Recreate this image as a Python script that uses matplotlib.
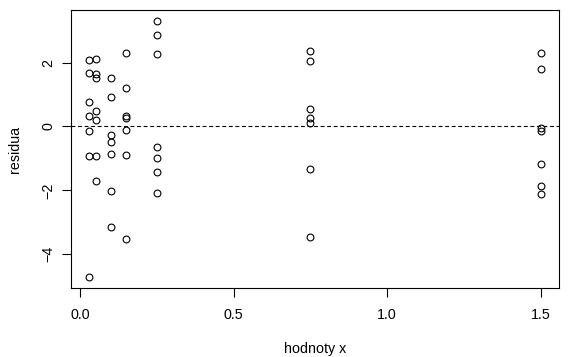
import matplotlib
matplotlib.use("Agg")
import matplotlib.pyplot as plt

plt.rcParams['font.family'] = ['Liberation Sans', 'DejaVu Sans']

# data: 7 residuals for each x level
x_levels = [0.03, 0.05, 0.1, 0.15, 0.25, 0.75, 1.5]
res_003 = [2.09, 1.66, 0.75, 0.34, -0.14, -0.91, -4.72]
res_005 = [2.10, 1.63, 1.51, 0.47, 0.20, -0.91, -1.72]
res_010 = [1.51, 0.93, -0.28, -0.49, -0.85, -2.02, -3.14]
res_015 = [2.29, 1.20, 0.34, 0.26, -0.12, -0.88, -3.51]
res_025 = [3.31, 2.87, 2.28, -0.64, -0.99, -1.42, -2.07]
res_075 = [2.37, 2.05, 0.54, 0.25, 0.12, -1.34, -3.45]
res_150 = [2.29, 1.80, -0.06, -0.14, -1.17, -1.86, -2.10]
residuals = [res_003, res_005, res_010, res_015, res_025, res_075, res_150]

x_ticks = [0.0, 0.5, 1.0, 1.5]
x_tick_labels = ["0.0", "0.5", "1.0", "1.5"]
y_ticks = [-4, -2, 0, 2]
y_tick_labels = ["\u22124", "\u22122", "0", "2"]

W, H = 577, 357
FS = 10.3
fig = plt.figure(figsize=(W / 100, H / 100), dpi=100)
left, right, top, bottom = 71.4, 558.7, 10.4, 287.5
ax = fig.add_axes([left / W, 1 - bottom / H, (right - left) / W, (bottom - top) / H])

xs, ys = [], []
for xv, rs in zip(x_levels, residuals):
    for r in rs:
        xs.append(xv)
        ys.append(r)
ax.plot(xs, ys, linestyle='none', marker='o', markersize=4.9,
        markerfacecolor='none', markeredgecolor='black', markeredgewidth=0.8)

ax.axhline(0, color='black', linewidth=0.8, linestyle=(0, (3.5, 2.4)))

# R-style 4% extension
xmin, xmax = min(xs), max(xs)
ymin, ymax = min(ys), max(ys)
dx = (xmax - xmin) * 0.04
dy = (ymax - ymin) * 0.04
ax.set_xlim(xmin - dx, xmax + dx)
ax.set_ylim(ymin - dy, ymax + dy)

ax.set_xticks(x_ticks)
ax.set_xticklabels(x_tick_labels)
ax.set_yticks(y_ticks)
ax.set_yticklabels(y_tick_labels, rotation=90, va='center')

ax.tick_params(axis='both', length=6.7, width=0.8, labelsize=FS, color='black')
ax.tick_params(axis='x', pad=7.8)
ax.tick_params(axis='y', pad=5.0)
for sp in ax.spines.values():
    sp.set_linewidth(0.8)

fig.text((left + right) / 2 / W, (H - 353) / H, "hodnoty x", ha='center', va='baseline', fontsize=FS)
fig.text(14.9 / W, 1 - ((top + bottom) / 2) / H, "residua", ha='center', va='center',
         rotation=90, fontsize=FS)

fig.savefig("out.png", dpi=100)
